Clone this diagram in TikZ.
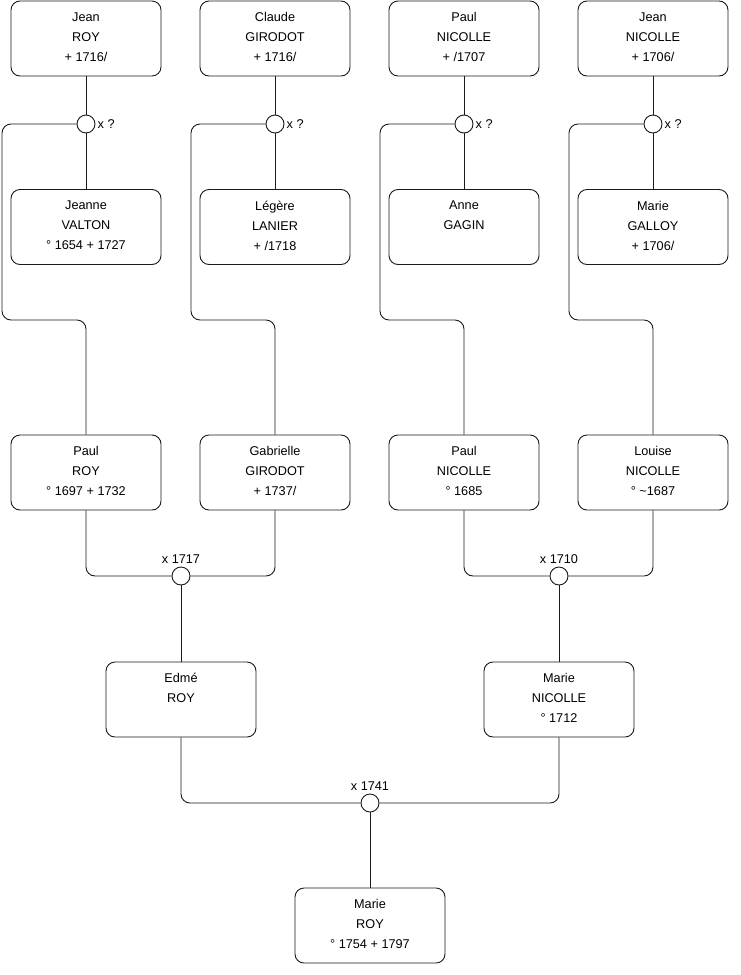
\documentclass[tikz,border=0pt]{standalone}
\usepackage{fontspec}
\setmainfont{Liberation Sans}
\usepackage{xcolor}
\usetikzlibrary{positioning}
\definecolor{gnLine}{HTML}{1A1A1A}

\begin{document}
\begin{tikzpicture}[x=1pt,y=-1pt,font=\fontsize{12.7}{20}\selectfont,
    person/.style={draw=gnLine, line width=0.9pt, rounded corners=9pt, minimum width=150pt, minimum height=75pt, align=center, inner sep=0pt, text=black},
    wed/.style={draw=gnLine, line width=0.9pt, circle, fill=white, minimum size=18pt, inner sep=0pt},
    link/.style={draw=gnLine, line width=0.9pt, rounded corners=9pt}]
    \useasboundingbox (0,0) rectangle (740,975);

    % Generation 1: fathers
    \node[person] at (86,38.5) (jroy) {Jean\\ROY\\+ 1716/\\[-17pt]\mbox{}};
    \node[person] at (275,38.5) (cgirodot) {Claude\\GIRODOT\\+ 1716/\\[-17pt]\mbox{}};
    \node[person] at (464,38.5) (pnicolle) {Paul\\NICOLLE\\+ /1707\\[-17pt]\mbox{}};
    \node[person] at (653,38.5) (jnicolle) {Jean\\NICOLLE\\+ 1706/\\[-17pt]\mbox{}};

    % Generation 1: mothers
    \node[person] at (86,227) (jvalton) {Jeanne\\VALTON\\° 1654 + 1727\\[-17pt]\mbox{}};
    \node[person] at (275,227) (llanier) {Légère\\LANIER\\+ /1718\\[-17pt]\mbox{}};
    \node[person] at (464,227) (agagin) {Anne\\GAGIN\\\strut\\[-17pt]\mbox{}};
    \node[person] at (653,227) (mgalloy) {Marie\\GALLOY\\+ 1706/\\[-17pt]\mbox{}};

    % Marriages of generation 1
    \node[wed, label={[inner sep=2pt]east:x ?}] at (86,124) (w1) {};
    \node[wed, label={[inner sep=2pt]east:x ?}] at (275,124) (w2) {};
    \node[wed, label={[inner sep=2pt]east:x ?}] at (464,124) (w3) {};
    \node[wed, label={[inner sep=2pt]east:x ?}] at (653,124) (w4) {};

    % Generation 2
    \node[person] at (86,472.5) (proy) {Paul\\ROY\\° 1697 + 1732\\[-17pt]\mbox{}};
    \node[person] at (275,472.5) (ggirodot) {Gabrielle\\GIRODOT\\+ 1737/\\[-17pt]\mbox{}};
    \node[person] at (464,472.5) (pnicolle2) {Paul\\NICOLLE\\° 1685\\[-17pt]\mbox{}};
    \node[person] at (653,472.5) (lnicolle) {Louise\\NICOLLE\\° \textasciitilde1687\\[-17pt]\mbox{}};

    \node[wed, label={[inner sep=3pt]north:x 1717}] at (181,576) (w5) {};
    \node[wed, label={[inner sep=3pt]north:x 1710}] at (559,576) (w6) {};

    % Generation 3
    \node[person] at (181,699.5) (eroy) {Edmé\\ROY\\\strut\\[-17pt]\mbox{}};
    \node[person] at (559,699.5) (mnicolle) {Marie\\NICOLLE\\° 1712\\[-17pt]\mbox{}};

    \node[wed, label={[inner sep=3pt]north:x 1741}] at (370,803) (w7) {};

    % Generation 4
    \node[person] at (370,925.5) (mroy) {Marie\\ROY\\° 1754 + 1797\\[-17pt]\mbox{}};

    % Links
    \draw[link] (jroy) -- (w1) -- (jvalton);
    \draw[link] (cgirodot) -- (w2) -- (llanier);
    \draw[link] (pnicolle) -- (w3) -- (agagin);
    \draw[link] (jnicolle) -- (w4) -- (mgalloy);
    \draw[link] (w1.west) -| (2,320) -| (proy.north);
    \draw[link] (w2.west) -| (191,320) -| (ggirodot.north);
    \draw[link] (w3.west) -| (380,320) -| (pnicolle2.north);
    \draw[link] (w4.west) -| (569,320) -| (lnicolle.north);
    \draw[link] (proy.south) |- (w5.west);
    \draw[link] (ggirodot.south) |- (w5.east);
    \draw[link] (pnicolle2.south) |- (w6.west);
    \draw[link] (lnicolle.south) |- (w6.east);
    \draw[link] (w5) -- (eroy);
    \draw[link] (w6) -- (mnicolle);
    \draw[link] (eroy.south) |- (w7.west);
    \draw[link] (mnicolle.south) |- (w7.east);
    \draw[link] (w7) -- (mroy);
\end{tikzpicture}
\end{document}
